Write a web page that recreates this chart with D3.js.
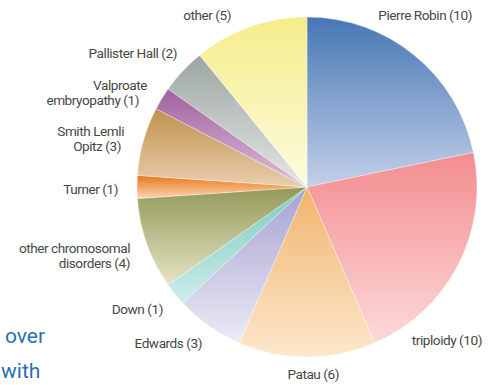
<!DOCTYPE html>
<html>
<head>
<meta charset="utf-8">
<script src="https://cdn.jsdelivr.net/npm/d3@7"></script>
<style>
  html, body { margin: 0; padding: 0; background: #fff; }
  svg { display: block; }
  .lbl { font-family: "Roboto", "Liberation Sans", sans-serif; font-size: 13.6px; letter-spacing: -0.45px; fill: #474747; }
  .side { font-family: "Roboto", "Liberation Sans", sans-serif; font-size: 21px; fill: #2a6fb0; }
</style>
</head>
<body>
<script>
// Diagnoses and case counts, clockwise from 12 o'clock
const categories = [
  "Pierre Robin", "triploidy", "Patau", "Edwards", "Down",
  "other chromosomal disorders", "Turner", "Smith Lemli Opitz",
  "Valproate embryopathy", "Pallister Hall", "other"
];
const counts = [10, 10, 6, 3, 1, 4, 1, 3, 1, 2, 5];

// Gradient stops per slice (top colour, bottom colour)
const topColors = ["#4677b4", "#f38c8f", "#f0b46c", "#a6a1d0", "#79ccc3", "#929a58", "#e8781a", "#c18f4e", "#a0609f", "#9da6a4", "#f5ed8a"];
const bottomColors = ["#c3d0e8", "#fcd9d8", "#fce8cc", "#ecebf6", "#cdece8", "#e6e4c6", "#fcd5b0", "#e8cfae", "#dcc0dc", "#e3e7e6", "#fdfbdf"];

// Label lines for each slice
const labelLines = [
  ["Pierre Robin (10)"], ["triploidy (10)"], ["Patau (6)"], ["Edwards (3)"], ["Down (1)"],
  ["other chromosomal", "disorders (4)"], ["Turner (1)"], ["Smith Lemli", "Opitz (3)"],
  ["Valproate", "embryopathy (1)"], ["Pallister Hall (2)"], ["other (5)"]
];

const W = 491, H = 385;
const cx = 307, cy = 187, R = 170;

const svg = d3.select("body").append("svg").attr("width", W).attr("height", H);
const defs = svg.append("defs");

categories.forEach((c, i) => {
  const g = defs.append("linearGradient")
    .attr("id", "grad" + i)
    .attr("x1", 0).attr("y1", 0).attr("x2", 0).attr("y2", 1);
  g.append("stop").attr("offset", "0%").attr("stop-color", topColors[i]);
  g.append("stop").attr("offset", "100%").attr("stop-color", bottomColors[i]);
});

const data = categories.map((c, i) => ({ name: c, value: counts[i], i }));
const pie = d3.pie().sort(null).value(d => d.value);
const arc = d3.arc().innerRadius(0).outerRadius(R);
const arcs = pie(data);

const gPie = svg.append("g").attr("transform", `translate(${cx},${cy})`);
gPie.selectAll("path")
  .data(arcs)
  .join("path")
  .attr("d", arc)
  .attr("fill", d => `url(#grad${d.data.i})`)
  .attr("stroke", "rgba(255,255,255,0.55)")
  .attr("stroke-width", 0.6);

// Label placement: right edge x, baseline y of first line, per-line x offsets
const labelPos = [
  { x: 472, y: 20 },
  { x: 482, y: 345 },
  { x: 339, y: 379 },
  { x: 202, y: 348 },
  { x: 163, y: 314 },
  { x: 130, y: 253, dx: [0, 0] },
  { x: 118, y: 194 },
  { x: 124, y: 136, dx: [0, -3] },
  { x: 147, y: 90, dx: [0, -8] },
  { x: 177, y: 58 },
  { x: 231, y: 20 }
];

const gLbl = svg.append("g");
labelLines.forEach((lines, i) => {
  const p = labelPos[i];
  const t = gLbl.append("text").attr("class", "lbl").attr("text-anchor", "end");
  lines.forEach((ln, k) => {
    t.append("tspan")
      .attr("x", p.x + (p.dx ? p.dx[k] : 0))
      .attr("y", p.y + k * 15)
      .text(ln);
  });
});

// Fragments of the adjacent body text
svg.append("text").attr("class", "side").attr("x", 5).attr("y", 343).text("over");
svg.append("text").attr("class", "side").attr("x", 1).attr("y", 378).text("with");
</script>
</body>
</html>
